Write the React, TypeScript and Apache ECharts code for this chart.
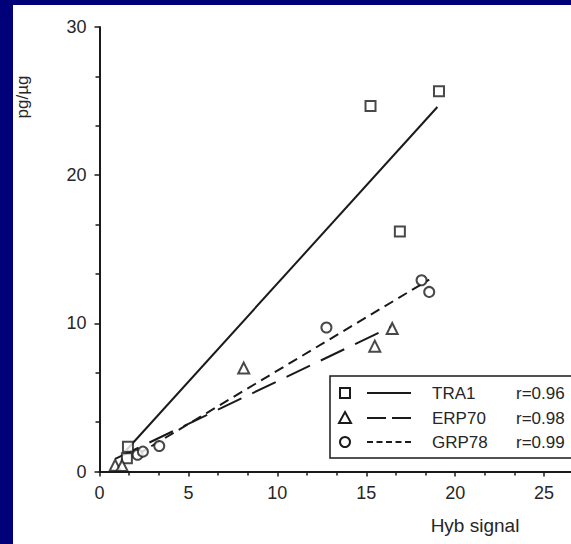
import React, { useEffect, useRef } from "react";
import * as echarts from "echarts";

const xTicks = [0, 5, 10, 15, 20, 25, 30];
const xShownLabels = [0, 5, 10, 15, 20, 25];
const yTicks = [0, 10, 20, 30];

const tra1X = [1.54, 1.6, 15.24, 16.89, 19.09];
const tra1Y = [0.89, 1.67, 24.67, 16.2, 25.66];
const erp70X = [0.88, 1.27, 8.11, 15.48, 16.46];
const erp70Y = [0.42, 0.4, 6.98, 8.46, 9.65];
const grp78X = [2.14, 2.44, 3.36, 12.76, 18.11, 18.54];
const grp78Y = [1.13, 1.34, 1.72, 9.72, 12.91, 12.12];

// regression line endpoints
const tra1LineX = [1.52, 19.0];
const tra1LineY = [1.45, 24.6];
const erp70LineX = [0.88, 16.46];
const erp70LineY = [0.85, 9.8];
const grp78LineX = [2.14, 18.54];
const grp78LineY = [1.15, 12.95];

const legendNames = ["TRA1", "ERP70", "GRP78"];
const legendR = ["r=0.96", "r=0.98", "r=0.99"];

const FONT = "Liberation Sans, Arial, sans-serif";
const INK = "#1a1a1a";
const TXT = "#262626";
const CHART_W = 660;

function pairs(xs: number[], ys: number[]) {
  return xs.map((x, i) => [x, ys[i]]);
}

export default function App() {
  const ref = useRef<HTMLDivElement>(null);
  useEffect(() => {
    document.body.style.margin = "0";
    const chart = echarts.init(ref.current!, null, { renderer: "svg" });
    const markerStyle = { color: "#fff", borderColor: INK, borderWidth: 2 };
    const rowY = [393, 418, 442];
    chart.setOption({
      animation: false,
      grid: { left: 99.5, top: 27, bottom: 72.5, right: CHART_W - 633, containLabel: false },
      xAxis: {
        type: "value",
        min: xTicks[0],
        max: xTicks[xTicks.length - 1],
        interval: 5,
        axisLine: { show: true, lineStyle: { color: INK, width: 2 } },
        axisTick: { show: true, length: 5, lineStyle: { color: INK, width: 1.5 } },
        minorTick: { show: true, splitNumber: 3, length: 4, lineStyle: { color: INK, width: 1.5 } },
        splitLine: { show: false },
        axisLabel: {
          color: TXT,
          fontSize: 18,
          fontFamily: FONT,
          margin: 12,
          formatter: (v: number) => (xShownLabels.indexOf(v) >= 0 ? String(v) : ""),
        },
      },
      yAxis: {
        type: "value",
        min: yTicks[0],
        max: yTicks[yTicks.length - 1],
        interval: 10,
        axisLine: { show: true, lineStyle: { color: INK, width: 2 } },
        axisTick: { show: true, length: 5, lineStyle: { color: INK, width: 1.5 } },
        minorTick: { show: true, splitNumber: 3, length: 4, lineStyle: { color: INK, width: 1.5 } },
        splitLine: { show: false },
        axisLabel: { color: TXT, fontSize: 18, fontFamily: FONT, margin: 13 },
      },
      series: [
        {
          type: "line",
          data: pairs(tra1LineX, tra1LineY),
          showSymbol: false,
          lineStyle: { color: INK, width: 2, type: "solid" },
          z: 2,
        },
        {
          type: "line",
          data: pairs(erp70LineX, erp70LineY),
          showSymbol: false,
          lineStyle: { color: INK, width: 2, type: [26, 12] },
          z: 2,
        },
        {
          type: "line",
          data: pairs(grp78LineX, grp78LineY),
          showSymbol: false,
          lineStyle: { color: INK, width: 2, type: [10, 6] },
          z: 2,
        },
        {
          type: "scatter",
          name: "TRA1",
          data: pairs(tra1X, tra1Y),
          symbol: "rect",
          symbolSize: 10,
          itemStyle: markerStyle,
          z: 3,
        },
        {
          type: "scatter",
          name: "ERP70",
          data: pairs(erp70X, erp70Y),
          symbol: "triangle",
          symbolSize: 11,
          itemStyle: markerStyle,
          z: 3,
        },
        {
          type: "scatter",
          name: "GRP78",
          data: pairs(grp78X, grp78Y),
          symbol: "circle",
          symbolSize: 10,
          itemStyle: markerStyle,
          z: 3,
        },
      ],
      graphic: [
        {
          type: "text",
          x: 22,
          y: 97,
          rotation: Math.PI / 2,
          style: {
            text: "pg/µg",
            fill: TXT,
            fontSize: 17,
            fontFamily: FONT,
            align: "center",
            verticalAlign: "middle",
          },
        },
        {
          type: "text",
          x: 475,
          y: 525,
          style: {
            text: "Hyb signal",
            fill: TXT,
            fontSize: 19,
            fontFamily: FONT,
            align: "center",
            verticalAlign: "middle",
          },
        },
        {
          type: "rect",
          z: 10,
          shape: { x: 330, y: 376, width: 270, height: 82 },
          style: { fill: "#fff", stroke: INK, lineWidth: 1.5 },
        },
        {
          type: "rect",
          z: 11,
          shape: { x: 340, y: rowY[0] - 5, width: 10, height: 10 },
          style: { fill: "#fff", stroke: INK, lineWidth: 2 },
        },
        {
          type: "polygon",
          z: 11,
          shape: { points: [[345, rowY[1] - 6], [351, rowY[1] + 5], [339, rowY[1] + 5]] },
          style: { fill: "#fff", stroke: INK, lineWidth: 2 },
        },
        {
          type: "circle",
          z: 11,
          shape: { cx: 345, cy: rowY[2], r: 5 },
          style: { fill: "#fff", stroke: INK, lineWidth: 2 },
        },
        {
          type: "line",
          z: 11,
          shape: { x1: 367, y1: rowY[0], x2: 411, y2: rowY[0] },
          style: { stroke: INK, lineWidth: 2 },
        },
        {
          type: "line",
          z: 11,
          shape: { x1: 367, y1: rowY[1], x2: 411, y2: rowY[1] },
          style: { stroke: INK, lineWidth: 2, lineDash: [19, 6] },
        },
        {
          type: "line",
          z: 11,
          shape: { x1: 367, y1: rowY[2], x2: 411, y2: rowY[2] },
          style: { stroke: INK, lineWidth: 2, lineDash: [6, 3.5] },
        },
        ...legendNames.map((n, i) => ({
          type: "text",
          z: 11,
          x: 432,
          y: rowY[i],
          style: {
            text: n,
            fill: TXT,
            fontSize: 17,
            fontFamily: FONT,
            align: "left",
            verticalAlign: "middle",
          },
        })),
        ...legendR.map((r, i) => ({
          type: "text",
          z: 11,
          x: 516,
          y: rowY[i],
          style: {
            text: r,
            fill: TXT,
            fontSize: 17,
            fontFamily: FONT,
            align: "left",
            verticalAlign: "middle",
          },
        })),
      ],
    });
    return () => chart.dispose();
  }, []);

  return (
    <div style={{ position: "absolute", left: 0, top: 0, width: 571, height: 544, background: "#000078", overflow: "hidden" }}>
      <div style={{ position: "absolute", left: 13, top: 5, width: 558, height: 539, background: "#fff" }} />
      <div ref={ref} style={{ position: "absolute", left: 0, top: 0, width: CHART_W, height: 544 }} />
    </div>
  );
}
